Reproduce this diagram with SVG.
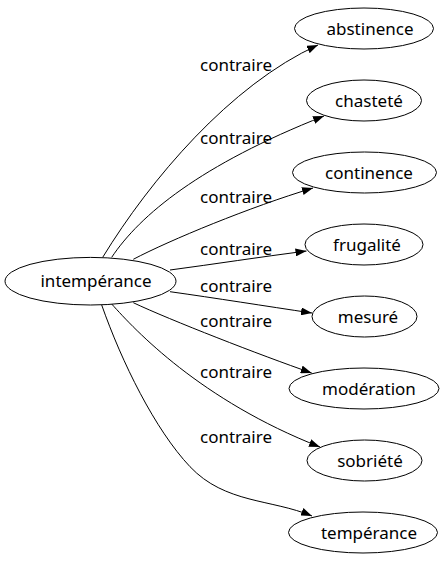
<svg xmlns="http://www.w3.org/2000/svg" width="445" height="563" viewBox="0 0 445 563">
<style>
.node ellipse{fill:#fff;stroke:#000;stroke-width:1}
.node text{font-family:"Noto Sans","Open Sans","DejaVu Sans",sans-serif;font-size:17px;fill:#000;text-anchor:middle}
.edges path{fill:none;stroke:#000;stroke-width:1;marker-end:url(#arr)}
.edges text{font-family:"Noto Sans","Open Sans","DejaVu Sans",sans-serif;font-size:17px;fill:#000;text-anchor:middle}
</style>
<defs>
<marker id="arr" viewBox="0 0 11 8" refX="11" refY="4" markerWidth="11" markerHeight="8" markerUnits="userSpaceOnUse" orient="auto">
<path d="M0,0 L11,4 L0,8 Z" fill="#000"/>
</marker>
</defs>
<rect width="445" height="563" fill="#fff"/>
<g id="edges" class="edges">
<path d="M102.7,257.3 C150,180 230,85 318,45"/>
<path d="M111.7,257.3 C140,215 200,165 324,116"/>
<path d="M133.3,259.3 C170,240 250,207 313,188"/>
<path d="M170,270 C215,264 260,257 306.5,251"/>
<path d="M170,291.7 C215,298 265,306 312,313"/>
<path d="M133.3,302.7 C170,320 260,355 311.7,373"/>
<path d="M111.7,304 C135,330 200,400 320,447"/>
<path d="M101.7,305 C121.7,362 155,429.7 190,466.7 S271.7,499 312,516"/>
<text x="236" y="70.5">contraire</text>
<text x="236" y="143.5">contraire</text>
<text x="236" y="203.3">contraire</text>
<text x="236" y="255">contraire</text>
<text x="236" y="291.7">contraire</text>
<text x="236" y="326.7">contraire</text>
<text x="236" y="378.3">contraire</text>
<text x="236" y="443.3">contraire</text>
</g>
<g id="intemperance" class="node"><ellipse cx="90.5" cy="281.2" rx="85.5" ry="23.8"/><text x="96" y="286.5">intempérance</text></g>
<g id="abstinence" class="node"><ellipse cx="364" cy="28.5" rx="69.5" ry="20.5"/><text x="370" y="34.5">abstinence</text></g>
<g id="chastete" class="node"><ellipse cx="364" cy="100.5" rx="57.5" ry="20.5"/><text x="369" y="106.5">chasteté</text></g>
<g id="continence" class="node"><ellipse cx="364.5" cy="172.5" rx="72" ry="20.5"/><text x="369" y="178.5">continence</text></g>
<g id="frugalite" class="node"><ellipse cx="364" cy="244.5" rx="59" ry="20.5"/><text x="367" y="250.5">frugalité</text></g>
<g id="mesure" class="node"><ellipse cx="364.5" cy="316.5" rx="52.5" ry="20.5"/><text x="368" y="322.5">mesuré</text></g>
<g id="moderation" class="node"><ellipse cx="364" cy="388.5" rx="75" ry="20.5"/><text x="369" y="394.5">modération</text></g>
<g id="sobriete" class="node"><ellipse cx="364.5" cy="460.5" rx="57.5" ry="20.5"/><text x="370" y="466.5">sobriété</text></g>
<g id="temperance" class="node"><ellipse cx="363" cy="532.5" rx="74.5" ry="20.5"/><text x="369" y="538.5">tempérance</text></g>
</svg>
